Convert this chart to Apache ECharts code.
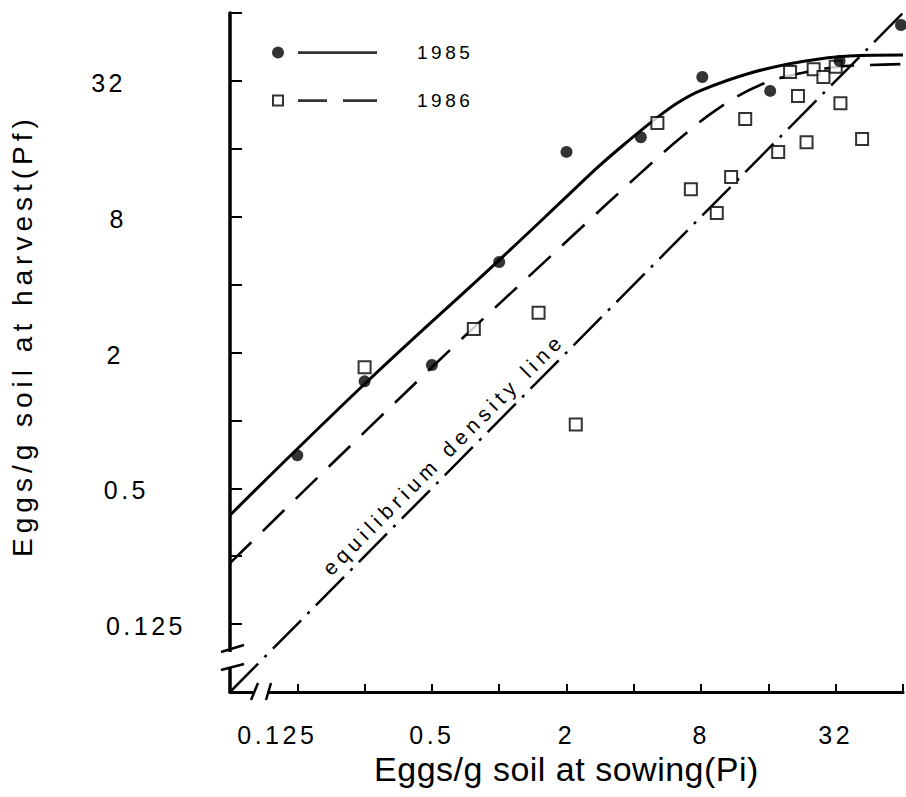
<!DOCTYPE html>
<html><head><meta charset="utf-8">
<script src="https://cdn.jsdelivr.net/npm/echarts@6/dist/echarts.min.js"></script>
<style>
html,body{margin:0;padding:0;background:#fff;}
#chart{width:906px;height:797px;}
#chart text{letter-spacing:0.12em;}
#chart text[style*="25px"]{letter-spacing:3.5px;}
#chart text[style*="28px"]{letter-spacing:5px;}
#chart text[style*="34px"]{letter-spacing:0.5px;}
#chart text[style*="19px"]{letter-spacing:3.5px;}
#chart text[style*="21px"]{letter-spacing:5px;}
</style></head><body><div id="chart"></div>
<script>
// ---- data (eggs / g soil) ----
const pi1985 = [0.125, 0.25, 0.5, 1, 2, 4.3, 8.1, 16.3, 33.3, 62.7];
const pf1985 = [0.70, 1.49, 1.76, 5.04, 15.5, 18.0, 33.3, 28.9, 39.2, 56.6];
const pi1986 = [0.25, 0.77, 1.5, 2.2, 5.1, 7.2, 9.4, 10.9, 12.6, 17.7, 20.0, 21.7, 23.7, 25.5, 28.2, 32.0, 33.6, 42.0];
const pf1986 = [1.72, 2.54, 3.0, 0.96, 20.8, 10.6, 8.3, 12.0, 21.7, 15.5, 35.0, 27.4, 17.1, 36.0, 33.3, 37.0, 25.5, 17.7];
const curve1985Pi = [0.0625, 0.25, 1, 2.04, 2.77, 3.77, 4.97, 6.29, 7.95, 13.3, 22.1, 36.8, 64];
const curve1985Pf = [0.38, 1.45, 5.14, 9.99, 13.3, 17.3, 21.6, 25.6, 29.0, 34.7, 38.8, 41.3, 41.7];
const curve1986Pi = [0.0625, 0.5, 2.1, 4.18, 6.48, 9.75, 14.7, 21.4, 32.3, 43.8, 64];
const curve1986Pf = [0.233, 1.72, 6.5, 12.2, 17.9, 24.5, 30.7, 34.3, 36.9, 37.6, 38.0];
const equilibriumPi = [0.0625, 64];
const tickLabels = {'-3': '0.125', '-1': '0.5', '1': '2', '3': '8', '5': '32'};
const eqLabelAt = [0.563, 0.71];

const FONT = '"Liberation Sans", Arial, Helvetica, sans-serif';
const zip = (a, b) => a.map((v, i) => [v, b[i]]);
const expOf = v => Math.round(Math.log(v) / Math.log(2));

const chart = echarts.init(document.getElementById('chart'), null, {renderer: 'svg'});

const yPad = {'5': 60, '3': 59, '1': 62, '-1': 37, '-3': 0};

const option = {
  backgroundColor: '#fff',
  animation: false,
  grid: {left: 229, right: 0, top: 13, bottom: 105},
  legend: {
    left: 267, top: 38, orient: 'vertical', itemGap: 29,
    itemWidth: 105, itemHeight: 12, selectedMode: false,
    textStyle: {fontFamily: FONT, fontSize: 19, color: '#000', padding: [0, 0, 0, 35]},
    data: [
      {name: '1985', icon: 'path://M0,6 A6,6 0 1,0 12,6 A6,6 0 1,0 0,6 Z M26,4.8 L105,4.8 L105,7.4 L26,7.4 Z',
       itemStyle: {color: '#000', borderWidth: 0}},
      {name: '1986', icon: 'path://M0,0 L12,0 L12,12 L0,12 Z M2,2 L2,10 L10,10 L10,2 Z M26,4.8 L55,4.8 L55,7.4 L26,7.4 Z M71,4.8 L105,4.8 L105,7.4 L71,7.4 Z',
       itemStyle: {color: '#000', borderWidth: 0}}
    ]
  },
  xAxis: {
    type: 'log', logBase: 2, min: 0.0625, max: 64, interval: 1, splitNumber: 10,
    name: 'Eggs/g soil at sowing(Pi)', nameLocation: 'middle', nameGap: 60,
    nameTextStyle: {fontFamily: FONT, fontSize: 34, color: '#000'},
    axisLine: {lineStyle: {color: '#000', width: 3}},
    axisTick: {inside: true, length: 8, lineStyle: {color: '#000', width: 2}},
    splitLine: {show: false},
    axisLabel: {
      margin: 30, fontFamily: FONT, fontSize: 25, color: '#000', showMinLabel: true, showMaxLabel: true,
      formatter: v => { const e = expOf(v); const t = tickLabels[e]; if (!t) return ''; return e === -3 ? '{s|' + t + '}' : t; },
      rich: {s: {fontFamily: FONT, fontSize: 25, color: '#000', padding: [0, 40, 0, 0]}}
    }
  },
  yAxis: {
    type: 'log', logBase: 2, min: 0.0625, max: 64, interval: 1, splitNumber: 10,
    name: 'Eggs/g soil at harvest(Pf)', nameLocation: 'middle', nameGap: 194, nameRotate: 90,
    nameTextStyle: {fontFamily: FONT, fontSize: 28, color: '#000', padding: [0, 0, 0, 34]},
    axisLine: {lineStyle: {color: '#000', width: 3.5}},
    axisTick: {inside: true, length: 12, lineStyle: {color: '#000', width: 2}},
    splitLine: {show: false},
    axisLabel: {
      margin: 44, align: 'right', fontFamily: FONT, fontSize: 25, color: '#000',
      formatter: v => { const e = expOf(v); const t = tickLabels[e]; if (!t) return ''; return '{p' + yPad[e] + '|' + t + '}'; },
      rich: Object.fromEntries(Object.values(yPad).map(p => ['p' + p, {fontFamily: FONT, fontSize: 25, color: '#000', padding: [4, p, 0, 0]}]))
    }
  },
  series: [
    {
      name: 'equilibrium', type: 'line', data: zip(equilibriumPi, equilibriumPi), symbol: 'none', z: 1,
      lineStyle: {color: '#000', width: 2.5, type: [40, 9, 3, 9]},
      markPoint: {
        symbol: 'circle', symbolSize: 0,
        data: [{coord: eqLabelAt}],
        label: {show: true, position: 'inside', formatter: 'equilibrium density line', rotate: 45,
                fontFamily: FONT, fontSize: 21, color: '#000'}
      }
    },
    {
      name: '1985 curve', type: 'line', data: zip(curve1985Pi, curve1985Pf), symbol: 'none', smooth: 0.4, z: 2,
      lineStyle: {color: '#000', width: 3}
    },
    {
      name: '1986 curve', type: 'line', data: zip(curve1986Pi, curve1986Pf), symbol: 'none', smooth: 0.4, z: 2,
      lineStyle: {color: '#000', width: 2.6, type: [30, 16]}
    },
    {
      name: '1985', type: 'scatter', data: zip(pi1985, pf1985), symbol: 'circle', symbolSize: 12, z: 4,
      itemStyle: {color: '#000'}
    },
    {
      name: '1986', type: 'scatter', data: zip(pi1986, pf1986), symbol: 'rect', symbolSize: 12, z: 3,
      itemStyle: {color: '#fff', borderColor: '#000', borderWidth: 2}
    }
  ]
};
chart.setOption(option);

// axis break marks (decoration), placed relative to the origin of the axes
const o = chart.convertToPixel({gridIndex: 0}, [0.0625, 0.0625]);
const ox = o[0], oy = o[1];
const blk = {stroke: '#000', lineWidth: 2.5};
chart.setOption({
  graphic: [
    {type: 'rect', shape: {x: ox - 6, y: oy - 40, width: 12, height: 16}, style: {fill: '#fff'}, z: 100},
    {type: 'rect', shape: {x: ox + 23, y: oy - 5, width: 14, height: 10}, style: {fill: '#fff'}, z: 100},
    {type: 'line', shape: {x1: ox - 9, y1: oy - 40, x2: ox + 14, y2: oy - 47}, style: blk, z: 101},
    {type: 'line', shape: {x1: ox - 9, y1: oy - 22, x2: ox + 14, y2: oy - 28}, style: blk, z: 101},
    {type: 'line', shape: {x1: ox + 21, y1: oy + 8, x2: ox + 28, y2: oy - 9}, style: blk, z: 101},
    {type: 'line', shape: {x1: ox + 36, y1: oy + 8, x2: ox + 41, y2: oy - 9}, style: blk, z: 101}
  ]
});
</script></body></html>
